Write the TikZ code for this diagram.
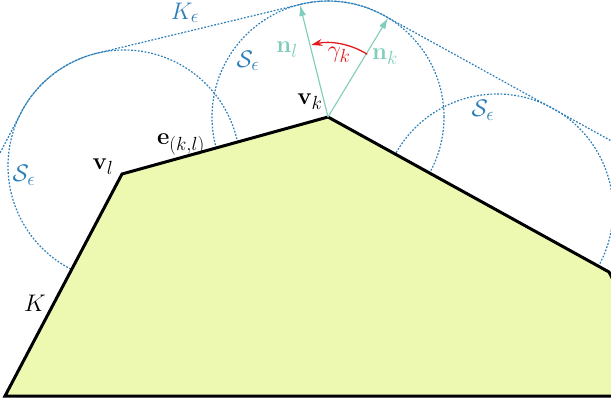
\documentclass[tikz,border=0pt]{standalone}
\usepackage{fix-cm}
\DeclareMathSizes{24}{24}{19}{15}
\usetikzlibrary{arrows.meta}
\definecolor{polyfill}{HTML}{EDF8B1}
\definecolor{hullblue}{HTML}{2C7FB8}
\definecolor{normteal}{HTML}{7FCDBB}
\definecolor{angred}{HTML}{E31A1C}
\begin{document}
\begin{tikzpicture}[x=1pt,y=-1pt,
  hull/.style={hullblue, line width=1.2pt, dash pattern=on 1.8pt off 1.6pt},
  body/.style={fill=polyfill, draw=black, line width=3pt, line join=miter},
  normalvec/.style={normteal, line width=1.1pt, -{Latex[length=11pt,width=7pt]}},
  anglearc/.style={angred, line width=1.3pt, -{Stealth[length=11pt,width=7pt]}},
  every node/.style={font=\fontsize{24}{28}\selectfont, inner sep=0pt}
]
\useasboundingbox (0,0) rectangle (611,404);
\clip (0,0) rectangle (611,404);
% polygon vertices
\coordinate (p0) at (5,396);
\coordinate (vl) at (122,174);
\coordinate (vk) at (328,117);
\coordinate (vr) at (609,272);
\coordinate (p4) at (650,350);
\coordinate (p5) at (650,396);
% circle centres
\coordinate (cl) at (124,166);
\coordinate (cr) at (497,210);
% hull points
\coordinate (h0) at (-25,201);
\coordinate (h1) at (21.1,112.5);
\coordinate (h2) at (300.3,4.4);
\coordinate (h3) at (693,186);
% normal tips
\coordinate (nlt) at (300,5);
\coordinate (nkt) at (388,18);

\draw[hull] (cl) circle[radius=116pt];
\draw[hull] (vk) circle[radius=116pt];
\draw[hull] (cr) circle[radius=116pt];
\draw[hull] (h0) -- (h1) arc[start angle=152.5, end angle=103.8, radius=116pt]
  -- (h2) arc[start angle=103.8, end angle=61.1, radius=116pt] -- (h3);

\draw[body] (p0) -- (vl) -- (vk) -- (vr) -- (p4) -- (p5) -- cycle;

\draw[normalvec] (vk) -- (nlt);
\draw[normalvec] (vk) -- (nkt);
\draw[anglearc] ([shift={(58:74pt)}]vk) arc[start angle=58, end angle=103, radius=74pt];

\node[hullblue] (keps) at (185,13) {$K_\epsilon$};
\node[hullblue] (s1) at (24,175) {$\mathcal{S}_\epsilon$};
\node[hullblue] (s2) at (248,61) {$\mathcal{S}_\epsilon$};
\node[hullblue] (s3) at (483,110) {$\mathcal{S}_\epsilon$};
\node[normteal] (nl) at (287,50) {$\mathbf{n}_l$};
\node[normteal] (nk) at (385,57) {$\mathbf{n}_k$};
\node[angred] (gk) at (339,55) {$\gamma_k$};
\node (vkl) at (310,102) {$\mathbf{v}_k$};
\node (vll) at (103,167) {$\mathbf{v}_l$};
\node (ekl) at (181,145) {$\mathbf{e}_{(k,l)}$};
\node (Kl) at (35,303) {$K$};
\end{tikzpicture}
\end{document}
